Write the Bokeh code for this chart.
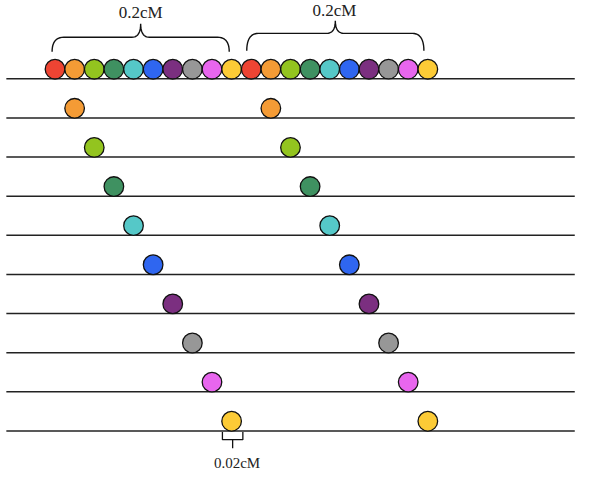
from bokeh.plotting import figure
from bokeh.models import Range1d, ColumnDataSource
from bokeh.core.properties import value
from bokeh.embed import file_html
from bokeh.resources import INLINE
import numpy as np

# ---- data ----
marker_colors = ["#EE4433", "#F49B35", "#93C41F", "#3F9161", "#55C8C8",
                 "#2F66F0", "#7B2F80", "#979797", "#E866EE", "#FCCB36"]
marker_step_cM = 0.02          # spacing between adjacent markers (cM)
group_starts_cM = [0.0, 0.20]  # start of each 0.2 cM group
n_rows = 10                    # row 0 = full set, rows 1..9 = single marker per group
brace_labels = ["0.2cM", "0.2cM"]
small_label = "0.02cM"

# ---- geometry (px of the reference -> data) ----
px_per_cM = 20.16 / marker_step_cM
x0_px = 56.0
row_px = 40.44
top_px = 81.0

def xpx(px):
    return (px - x0_px) / px_per_cM

def ypx(px):
    return (px - top_px) / row_px

p = figure(width=584, height=473, output_backend="svg", toolbar_location=None,
           x_range=Range1d(xpx(0), xpx(600)), y_range=Range1d(ypx(489), ypx(0)),
           min_border=0)
p.axis.visible = False
p.grid.visible = False
p.outline_line_color = None
p.background_fill_color = "white"

# horizontal chromosome lines
rows = list(range(n_rows))
p.segment(x0=[xpx(6)] * n_rows, x1=[xpx(590)] * n_rows, y0=rows, y1=rows,
          line_color="#222222", line_width=1.5)

r_off = 10.0 / row_px  # circle sits on the line

# top row: all markers of both groups
xs, ys, cs = [], [], []
for g in group_starts_cM:
    for i, c in enumerate(marker_colors):
        xs.append(g + i * marker_step_cM)
        ys.append(0 - r_off)
        cs.append(c)
# rows 1..9: one marker per group
for r in range(1, n_rows):
    for g in group_starts_cM:
        xs.append(g + r * marker_step_cM)
        ys.append(r - r_off)
        cs.append(marker_colors[r])
src = ColumnDataSource(dict(x=xs, y=ys, c=cs))
p.scatter("x", "y", source=src, size=19.6, fill_color="c",
          line_color="#111111", line_width=1.3)

# braces
def brace(xa, xb, y_end, y_mid, y_tip):
    xm = (xa + xb) / 2
    pts_x, pts_y = [], []
    def q(p0, p1, p2, n=12):
        t = np.linspace(0, 1, n)
        bx = (1 - t) ** 2 * p0[0] + 2 * (1 - t) * t * p1[0] + t ** 2 * p2[0]
        by = (1 - t) ** 2 * p0[1] + 2 * (1 - t) * t * p1[1] + t ** 2 * p2[1]
        pts_x.extend(bx); pts_y.extend(by)
    w = xpx(x0_px + 12) - xpx(x0_px)
    wt = xpx(x0_px + 9) - xpx(x0_px)
    q((xa, y_end), (xa, y_mid), (xa + w, y_mid))
    q((xm - wt, y_mid), (xm, y_mid), (xm, y_tip))
    q((xm, y_tip), (xm, y_mid), (xm + wt, y_mid))
    q((xb - w, y_mid), (xb, y_mid), (xb, y_end))
    return pts_x, pts_y

bx1, by1 = brace(xpx(53), xpx(235), ypx(53), ypx(38), ypx(24))
bx2, by2 = brace(xpx(253), xpx(435), ypx(52), ypx(34), ypx(21))
p.line(bx1, by1, line_color="#111111", line_width=1.4)
p.line(bx2, by2, line_color="#111111", line_width=1.4)

p.text(x=[xpx(144), xpx(343)], y=[ypx(12), ypx(10)], text=brace_labels,
       text_font=value("Liberation Serif"), text_font_size="17px",
       text_align="center", text_baseline="middle", text_color="#222222")

# small bracket under last row
xa, xb = xpx(228), xpx(249)
xm = (xa + xb) / 2
p.line([xa, xa, xb, xb], [ypx(446), ypx(454), ypx(454), ypx(446)],
       line_color="#111111", line_width=1.3)
p.line([xm, xm], [ypx(454), ypx(463)], line_color="#111111", line_width=1.3)
p.text(x=[xpx(243)], y=[ypx(478)], text=[small_label],
       text_font=value("Liberation Serif"), text_font_size="15px",
       text_align="center", text_baseline="middle", text_color="#222222")

open("out.html", "w").write(file_html(p, INLINE))
